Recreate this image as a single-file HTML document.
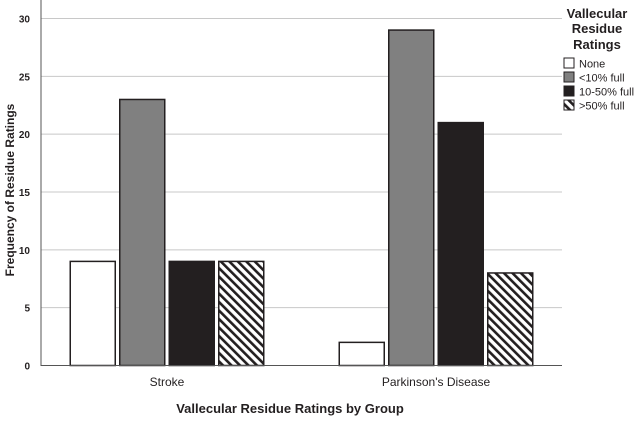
<!DOCTYPE html>
<html><head><meta charset="utf-8"><style>
body{margin:0;background:#fff;font-family:"Liberation Sans",Arial,sans-serif}
svg text{font-family:"Liberation Sans",Arial,sans-serif;fill:#231f20}
</style></head><body>
<svg id="c" width="639" height="417" xmlns="http://www.w3.org/2000/svg">
<defs><pattern id="hatch" patternUnits="userSpaceOnUse" width="6" height="6" patternTransform="rotate(-45)">
<rect width="6" height="6" fill="#fff"/><rect width="2.6" height="6" fill="#231f20"/></pattern></defs>
<g id="grid"></g><g id="bars"></g><g id="axes"></g>
<text x="290" y="413" text-anchor="middle" font-size="13" font-weight="bold">Vallecular Residue Ratings by Group</text>
<text transform="translate(14,190) rotate(-90)" text-anchor="middle" font-size="12" font-weight="bold">Frequency of Residue Ratings</text>
<g font-size="11">
<text x="597" y="18" text-anchor="middle" font-size="13" font-weight="bold">Vallecular</text>
<text x="597" y="33" text-anchor="middle" font-size="13" font-weight="bold">Residue</text>
<text x="597" y="49" text-anchor="middle" font-size="13" font-weight="bold">Ratings</text>
<g id="leg"></g>
</g>
</svg>
<script>
const categories=["Stroke","Parkinson's Disease"];
const seriesNames=["None","<10% full","10-50% full",">50% full"];
const noneVals=[9,2];
const lt10Vals=[23,29];
const mid10to50Vals=[9,21];
const gt50Vals=[9,8];
const yTicks=[0,5,10,15,20,25,30];
const fills=["#fff","#808080","#231f20","url(#hatch)"];
const series=[noneVals,lt10Vals,mid10to50Vals,gt50Vals];
const NS="http://www.w3.org/2000/svg";
const x0=41,x1=562,y0=365.5,yTop=18.5,yMax=30;
const y=v=>y0-(v/yMax)*(y0-yTop);
const catCenter=i=>167+i*269;
const bw=45,step=49.5;
function mk(t,a,p){const e=document.createElementNS(NS,t);for(const k in a)e.setAttribute(k,a[k]);p.appendChild(e);return e;}
const g=document.getElementById('grid'),b=document.getElementById('bars'),ax=document.getElementById('axes'),lg=document.getElementById('leg');
yTicks.forEach(v=>{
 if(v>0){const l=mk('line',{x1:x0,x2:x1,y1:y(v),y2:y(v),stroke:'#c8c8c8','stroke-width':1},g);
 
 }
 const t=mk('text',{x:30,y:y(v)+4,'text-anchor':'end','font-size':10,'font-weight':'bold'},ax);t.textContent=v;
 
 
});
categories.forEach((c,i)=>{
 series.forEach((s,j)=>{
  const x=catCenter(i)+(j-1.5)*step-bw/2;
  const r=mk('rect',{x:x,y:y(s[i]),width:bw,height:y0-y(s[i]),fill:fills[j],stroke:'#231f20','stroke-width':1.5},b);
  
  
 });
 const t=mk('text',{x:catCenter(i),y:386,'text-anchor':'middle','font-size':12},ax);t.textContent=c;
 
 
});
const al=mk('path',{d:`M${x0} ${yTop-20}V${y0}H${x1}`,fill:'none',stroke:'#555','stroke-width':1},ax);


seriesNames.forEach((n,j)=>{
 const yy=58+j*14;
 const r=mk('rect',{x:564,y:yy,width:10,height:10,fill:fills[j],stroke:'#231f20','stroke-width':1},lg);
 
 
 const t=mk('text',{x:579,y:yy+9.5,'font-size':11},lg);t.textContent=n;
 
 
});
</script>
</body></html>
